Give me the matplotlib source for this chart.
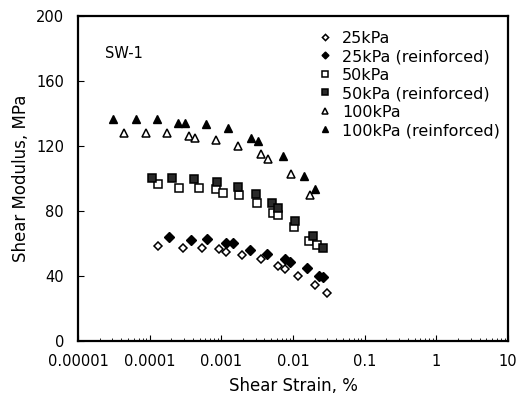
import numpy as np
import matplotlib
matplotlib.use("Agg")
import matplotlib.pyplot as plt
import matplotlib.ticker as mticker

plt.rcParams['font.family'] = ['DejaVu Sans']

# 25kPa
s25 = [1.32e-4, 2.94e-4, 5.31e-4, 9.35e-4, 1.16e-3, 1.97e-3, 3.53e-3, 6.1e-3, 7.7e-3, 0.0118, 0.0202, 0.0294]
g25 = [58.5, 57.0, 57.0, 56.4, 55.0, 52.9, 50.3, 46.3, 44.3, 40.0, 34.5, 29.7]
# 25kPa reinforced
s25r = [1.87e-4, 3.73e-4, 6.24e-4, 1.16e-3, 1.44e-3, 2.5e-3, 4.29e-3, 7.7e-3, 9.06e-3, 0.0155, 0.0232, 0.0264]
g25r = [63.8, 62.2, 62.8, 60.1, 60.1, 56.2, 53.4, 50.3, 48.8, 44.7, 40.0, 39.2]
# 50kPa
s50 = [1.32e-4, 2.57e-4, 4.88e-4, 8.4e-4, 1.04e-3, 1.78e-3, 3.1e-3, 5.19e-3, 6.2e-3, 0.0103, 0.0168, 0.0213]
g50 = [96.4, 94.3, 94.3, 93.4, 91.3, 89.8, 84.7, 79.0, 77.5, 70.2, 61.5, 59.1]
# 50kPa reinforced
s50r = [1.07e-4, 2.07e-4, 4.15e-4, 8.8e-4, 1.72e-3, 3.04e-3, 5.04e-3, 6.2e-3, 0.0107, 0.0187, 0.0264]
g50r = [100.5, 100.5, 99.7, 98.0, 95.0, 90.3, 85.1, 82.0, 74.0, 64.6, 57.4]
# 100kPa
s100 = [4.34e-5, 8.8e-5, 1.74e-4, 3.5e-4, 4.29e-4, 8.3e-4, 1.72e-3, 3.53e-3, 4.5e-3, 9.35e-3, 0.0172]
g100 = [127.8, 127.8, 127.8, 126.2, 124.7, 123.7, 120.0, 114.9, 111.8, 102.6, 89.8]
# 100kPa reinforced
s100r = [3.08e-5, 6.4e-5, 1.26e-4, 2.5e-4, 3.1e-4, 6.1e-4, 1.22e-3, 2.59e-3, 3.27e-3, 7.3e-3, 0.0141, 0.0202]
g100r = [136.6, 136.6, 136.6, 134.3, 134.3, 133.4, 131.1, 125.1, 123.1, 113.8, 101.5, 93.7]

xticks = [1e-5, 1e-4, 1e-3, 1e-2, 1e-1, 1, 10]
xticklabels = ['0.00001', '0.0001', '0.001', '0.01', '0.1', '1', '10']
yticks = [0, 40, 80, 120, 160, 200]

fig = plt.figure(figsize=(5.2, 4.05), dpi=100)
ax = fig.add_axes([0.15, 0.158, 0.827, 0.8025])

ax.plot(s25, g25, 'D', ms=4.5, mfc='white', mec='black', mew=1.1, label='25kPa')
ax.plot(s25r, g25r, 'D', ms=5, mfc='black', mec='black', label='25kPa (reinforced)')
ax.plot(s50, g50, 's', ms=6, mfc='white', mec='black', mew=1.1, label='50kPa')
ax.plot(s50r, g50r, 's', ms=6, mfc='#2a2a2a', mec='black', mew=1.1, label='50kPa (reinforced)')
ax.plot(s100, g100, '^', ms=6, mfc='white', mec='black', mew=1.1, label='100kPa')
ax.plot(s100r, g100r, '^', ms=6, mfc='black', mec='black', label='100kPa (reinforced)')

ax.set_xscale('log')
ax.set_xlim(1e-5, 10)
ax.set_ylim(0, 200)
ax.set_xticks(xticks)
ax.xaxis.set_major_formatter(mticker.FixedFormatter(xticklabels))
ax.xaxis.set_minor_locator(mticker.LogLocator(base=10, subs=np.arange(2, 10)))
ax.xaxis.set_minor_formatter(mticker.NullFormatter())
ax.set_yticks(yticks)

ax.tick_params(axis='both', which='both', direction='in', top=False, right=False, labelsize=10.5)
ax.tick_params(axis='x', which='major', length=4, pad=9)
ax.tick_params(axis='x', which='minor', length=2)
ax.tick_params(axis='y', which='major', length=4, pad=10)
for sp in ax.spines.values():
    sp.set_linewidth(1.6)

ax.set_xlabel('Shear Strain, %', fontsize=12, labelpad=6)
ax.set_ylabel('Shear Modulus, MPa', fontsize=12, labelpad=4)

ax.text(0.063, 0.886, 'SW-1', transform=ax.transAxes, fontsize=10.5, va='center')

ax.legend(loc='upper left', bbox_to_anchor=(0.54, 0.975), frameon=False, fontsize=11.5,
          markerscale=0.7, handlelength=1.0, handletextpad=0.6, labelspacing=0.22,
          borderaxespad=0.0)

fig.savefig('out.png', dpi=100)
